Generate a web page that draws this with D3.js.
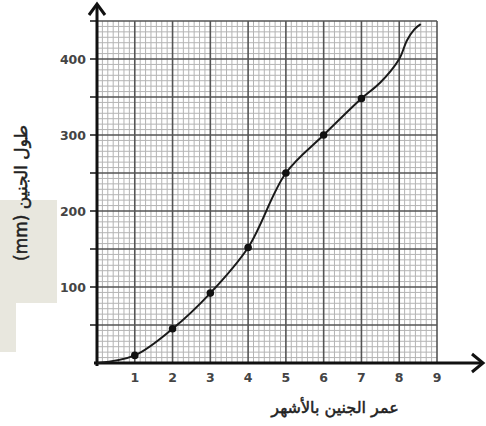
<!DOCTYPE html>
<html><head><meta charset="utf-8">
<script src="https://cdn.jsdelivr.net/npm/d3@7"></script>
<style>body{margin:0;background:#fff}svg{display:block}</style>
</head><body>
<svg id="c" width="486" height="426"></svg>
<script>
// data
const months = [1, 2, 3, 4, 5, 6, 7];
const lengths = [10, 45, 92, 152, 250, 300, 348];
// hand-drawn curve points
const curveX = [0, 1, 2, 3, 4, 5, 6, 7, 7.5, 8, 8.2, 8.4, 8.57];
const curveY = [0, 10, 45, 92, 152, 250, 300, 348, 369, 400, 424, 439, 446];
const xTicks = [1, 2, 3, 4, 5, 6, 7, 8, 9];
const yTicks = [100, 200, 300, 400];
const xLabel = "عمر الجنين بالأشهر";
const yLabel = "طول الجنين (mm)";

const svg = d3.select("#c");
const x = d3.scaleLinear().domain([0, 9]).range([97, 437]);
const y = d3.scaleLinear().domain([0, 450]).range([363, 21]);

// beige watermark patch
svg.append("path")
  .attr("d", "M0,200 H57 V303 H16 V352 H0 Z")
  .attr("fill", "#e8e7de");

// grid
const g = svg.append("g");
const sub = 7;
const minorX = [], minorY = [];
for (let i = 0; i < 9; i++) for (let j = 1; j < sub; j++) minorX.push(i + j / sub);
for (let v = 0; v < 450; v += 50) for (let j = 1; j < sub; j++) minorY.push(v + j * 50 / sub);
g.selectAll(".mx").data(minorX).join("line")
  .attr("x1", d => x(d)).attr("x2", d => x(d)).attr("y1", y(0)).attr("y2", y(450))
  .attr("stroke", "#b4b4b4").attr("stroke-width", 1);
g.selectAll(".my").data(minorY).join("line")
  .attr("x1", x(0)).attr("x2", x(9)).attr("y1", d => y(d)).attr("y2", d => y(d))
  .attr("stroke", "#b4b4b4").attr("stroke-width", 1);
g.selectAll(".Mx").data(d3.range(1, 10)).join("line")
  .attr("x1", d => x(d)).attr("x2", d => x(d)).attr("y1", y(0)).attr("y2", y(450))
  .attr("stroke", "#555").attr("stroke-width", 1.6);
g.selectAll(".My").data(d3.range(50, 451, 50)).join("line")
  .attr("x1", x(0)).attr("x2", x(9)).attr("y1", d => y(d)).attr("y2", d => y(d))
  .attr("stroke", "#555").attr("stroke-width", 1.6);

// y ticks every 50
svg.selectAll(".yt").data(d3.range(50, 451, 50)).join("line")
  .attr("x1", x(0) - 7).attr("x2", x(0)).attr("y1", d => y(d)).attr("y2", d => y(d))
  .attr("stroke", "#222").attr("stroke-width", 1.6);

// axes
svg.append("line").attr("x1", x(0)).attr("x2", x(0)).attr("y1", y(0) + 3).attr("y2", 4)
  .attr("stroke", "#111").attr("stroke-width", 3);
svg.append("path").attr("d", `M${x(0) - 8},15 L${x(0)},4 L${x(0) + 8},15`)
  .attr("fill", "none").attr("stroke", "#111").attr("stroke-width", 3).attr("stroke-linejoin", "miter");
svg.append("line").attr("x1", x(0) - 3).attr("x2", 483).attr("y1", y(0)).attr("y2", y(0))
  .attr("stroke", "#111").attr("stroke-width", 3);
svg.append("path").attr("d", `M472,${y(0) - 9} L483,${y(0)} L472,${y(0) + 9}`)
  .attr("fill", "none").attr("stroke", "#111").attr("stroke-width", 3);

// tick labels
svg.selectAll(".xl").data(xTicks).join("text")
  .attr("x", d => x(d)).attr("y", 382)
  .attr("text-anchor", "middle").attr("font-family", "DejaVu Sans, sans-serif")
  .attr("font-weight", "bold").attr("font-size", 12.5).attr("fill", "#444").text(d => d);
svg.selectAll(".yl").data(yTicks).join("text")
  .attr("x", 86).attr("y", d => y(d) + 4.5)
  .attr("text-anchor", "end").attr("font-family", "DejaVu Sans, sans-serif")
  .attr("font-weight", "bold").attr("font-size", 12.5).attr("fill", "#444").text(d => d);

// curve
const pts = curveX.map((d, i) => [d, curveY[i]]);
svg.append("path").datum(pts)
  .attr("d", d3.line().x(d => x(d[0])).y(d => y(d[1])).curve(d3.curveCatmullRom.alpha(0.5)))
  .attr("fill", "none").attr("stroke", "#1a1a1a").attr("stroke-width", 2);

svg.selectAll(".pt").data(months).join("circle")
  .attr("cx", d => x(d)).attr("cy", (d, i) => y(lengths[i])).attr("r", 3.8)
  .attr("fill", "#111");

// axis titles
svg.append("text").attr("x", 335).attr("y", 413)
  .attr("text-anchor", "middle").attr("direction", "rtl")
  .attr("font-family", "DejaVu Sans, sans-serif")
  .attr("font-size", 16).attr("fill", "#222")
  .attr("stroke", "#222").attr("stroke-width", 0.5)
  .text(xLabel);
svg.append("text").attr("transform", "translate(27,193) rotate(-90)")
  .attr("text-anchor", "middle").attr("direction", "rtl")
  .attr("font-family", "DejaVu Sans, sans-serif")
  .attr("font-size", 17).attr("fill", "#222")
  .attr("stroke", "#222").attr("stroke-width", 0.5)
  .text(yLabel);
</script>
</body></html>
